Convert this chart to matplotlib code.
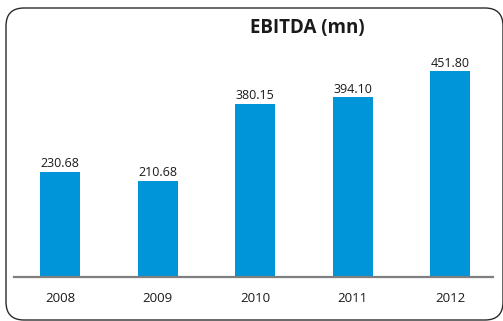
import matplotlib
matplotlib.use('Agg')
import matplotlib.pyplot as plt
from matplotlib.patches import FancyBboxPatch

BAR_COLOR = '#0094D9'
AXIS_COLOR = '#7F7F7F'
TEXT_COLOR = '#1A1A1A'
FRAME_COLOR = '#2B2B2B'

years = ['2008', '2009', '2010', '2011', '2012']
ebitda = [230.68, 210.68, 380.15, 394.10, 451.80]

plt.rcParams['font.family'] = ['Open Sans', 'DejaVu Sans']

fig = plt.figure(figsize=(5.03, 3.21), dpi=100)
fig.patch.set_facecolor('white')

# rounded border drawn in pixel units on a full-figure overlay
bg = fig.add_axes([0, 0, 1, 1], zorder=0)
bg.set_xlim(0, 503)
bg.set_ylim(321, 0)
bg.axis('off')
bg.add_patch(FancyBboxPatch((6 + 18, 8 + 18), 497 - 36, 312 - 36,
                            boxstyle='round,pad=18',
                            facecolor='white', edgecolor=FRAME_COLOR,
                            linewidth=1.0))

ax = fig.add_axes([14 / 503, 0.138, 479 / 503, 0.737], zorder=1)
ax.patch.set_alpha(0)
x = list(range(len(years)))
bars = ax.bar(x, ebitda, width=0.41, color=BAR_COLOR, zorder=2)
ax.set_xlim(-0.472, 4.44)
ax.set_ylim(0, 520)

for rect, v in zip(bars, ebitda):
    ax.annotate(f'{v:.2f}', (rect.get_x() + rect.get_width() / 2, v),
                xytext=(0, 1), textcoords='offset points',
                ha='center', va='bottom', fontsize=9, color=TEXT_COLOR)

ax.set_xticks(x)
ax.set_xticklabels(years, fontsize=9.5, color=TEXT_COLOR)
ax.tick_params(axis='x', length=0, pad=11)
ax.set_yticks([])
for side in ('left', 'right', 'top'):
    ax.spines[side].set_visible(False)
ax.spines['bottom'].set_color(AXIS_COLOR)
ax.spines['bottom'].set_linewidth(1.6)
ax.spines['bottom'].set_zorder(3)

fig.text(307 / 503, 1 - 28 / 321, 'EBITDA (mn)', fontsize=13.5,
         fontweight='bold', ha='center', va='center', color=TEXT_COLOR)

fig.savefig('out.png', dpi=100, facecolor='white')
plt.close(fig)
